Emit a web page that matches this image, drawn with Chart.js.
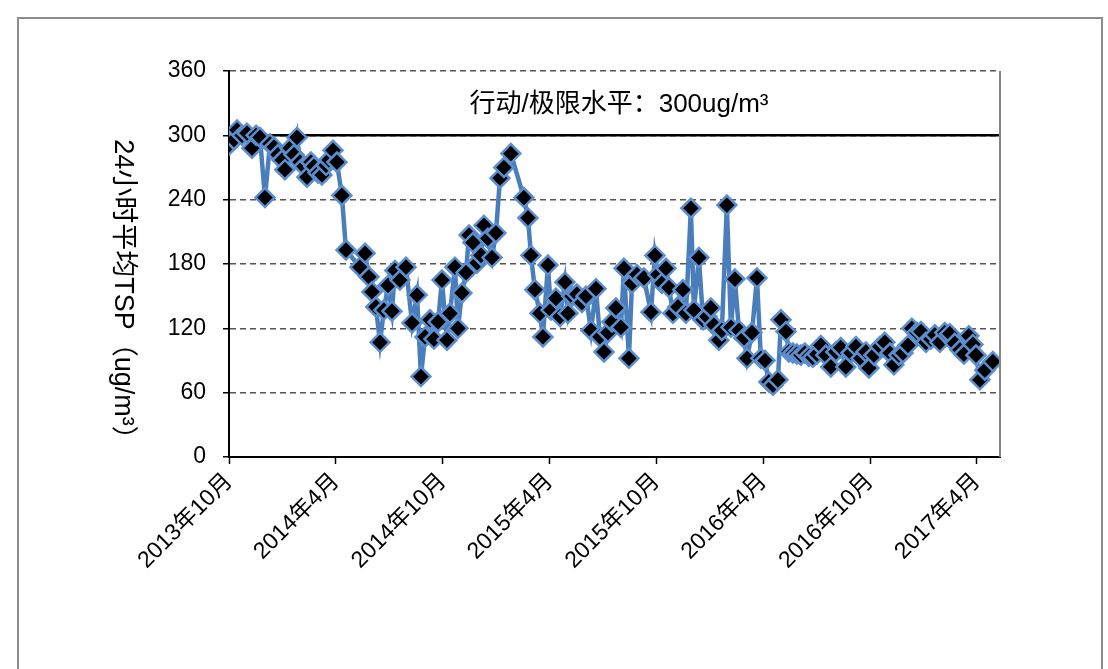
<!DOCTYPE html>
<html>
<head>
<meta charset="utf-8">
<script src="https://cdn.jsdelivr.net/npm/chart.js@4.4.0/dist/chart.umd.min.js"></script>
<style>
html, body { margin: 0; padding: 0; background: #fff; }
#wrap { position: relative; width: 1108px; height: 669px; overflow: hidden; }
#frame { position: absolute; left: 17px; top: 17px; width: 1082px; height: 700px; border: 2px solid #8c8c8c; }
canvas { position: absolute; left: 0; top: 0; }
</style>
</head>
<body>
<div id="wrap">
    <div id="frame"></div>
    <canvas id="tspChart" width="1108" height="669"></canvas>
</div>
<script>
// months since 2013年10月
const monthOffsets = [
    0.00, 0.28, 0.45, 0.73, 1.01, 1.29, 1.52, 1.74, 2.02, 2.30,
    2.53, 2.75, 2.98, 3.14, 3.43, 3.65, 3.82, 3.99, 4.21, 4.38,
    4.60, 4.77, 5.00, 5.22, 5.45, 5.61, 5.84, 6.06, 6.34, 6.57,
    7.35, 7.64, 7.86, 8.03, 8.25, 8.48, 8.70, 8.93, 9.15, 9.32,
    9.60, 9.94, 10.28, 10.56, 10.78, 11.01, 11.29, 11.51, 11.74, 11.96,
    12.24, 12.41, 12.69, 12.86, 13.08, 13.31, 13.48, 13.70, 13.93, 14.15,
    14.32, 14.54, 14.77, 14.99, 15.22, 15.44, 15.83, 16.56, 16.79, 16.96,
    17.18, 17.46, 17.63, 17.91, 18.08, 18.36, 18.59, 18.87, 19.04, 19.26,
    19.54, 19.82, 20.05, 20.33, 20.61, 20.83, 21.06, 21.28, 21.51, 21.73,
    22.01, 22.18, 22.46, 22.63, 22.91, 23.30, 23.70, 23.92, 24.09, 24.31,
    24.54, 24.71, 24.93, 25.21, 25.49, 25.66, 25.94, 26.11, 26.39, 26.62,
    26.84, 27.06, 27.23, 27.51, 27.68, 27.96, 28.19, 28.41, 28.64, 28.92,
    29.09, 29.37, 29.65, 29.87, 30.10, 30.32, 30.55, 30.83, 31.00, 31.28,
    31.45, 31.67, 31.89, 32.12, 32.34, 32.57, 32.79, 33.02, 33.24, 33.52,
    33.80, 34.08, 34.36, 34.64, 34.93, 35.21, 35.49, 35.77, 35.94, 36.22,
    36.55, 36.83, 37.12, 37.34, 37.62, 37.85, 38.13, 38.35, 38.63, 38.86,
    39.14, 39.42, 39.64, 39.92, 40.20, 40.48, 40.76, 41.05, 41.27, 41.55,
    41.78, 41.95, 42.17, 42.45, 42.90
];
const tspValues = [
    291, 296, 305, 300, 302, 288, 300, 298, 242, 292,
    289, 282, 277, 268, 288, 282, 298, 275, 271, 261,
    275, 271, 265, 263, 272, 277, 286, 275, 244, 193,
    177, 190, 168, 154, 140, 107, 137, 160, 136, 174,
    165, 177, 125, 151, 75, 112, 128, 110, 126, 165,
    109, 134, 177, 120, 153, 172, 207, 200, 181, 188,
    216, 204, 186, 209, 260, 270, 283, 242, 223, 188,
    156, 134, 112, 179, 137, 148, 131, 163, 134, 150,
    152, 144, 150, 118, 157, 112, 98, 116, 126, 139,
    121, 176, 92, 162, 170, 167, 135, 188, 170, 162,
    176, 158, 134, 140, 156, 134, 232, 137, 186, 128,
    131, 139, 123, 109, 118, 235, 121, 166, 118, 111,
    92, 116, 167, 92, 90, 70, 67, 72, 128, 117,
    98, 97, 96, 95, 97, 94, 93, 96, 104, 95,
    84, 98, 102, 84, 97, 103, 92, 98, 83, 95,
    103, 107, 97, 86, 95, 97, 104, 120, 116, 117,
    107, 110, 114, 107, 116, 115, 106, 100, 96, 113,
    105, 95, 72, 81, 89
];
const tickMonths = [0, 6, 12, 18, 24, 30, 36, 42];
const tickLabels = ['2013年10月', '2014年4月', '2014年10月', '2015年4月', '2015年10月', '2016年4月', '2016年10月', '2017年4月'];
const xMax = 43.3;
const limitValue = 300;
const limitLabel = '行动/极限水平：300ug/m³';
const yTitle = '24小时平均TSP（ug/m³）';

const FONT = '"Liberation Sans", "Noto Sans CJK SC", sans-serif';

// texts and the right edge of the plot box
const extrasPlugin = {
    id: 'extras',
    afterDraw(chart) {
        const { ctx, chartArea } = chart;
        ctx.save();
        ctx.strokeStyle = '#868686';
        ctx.lineWidth = 2;
        ctx.beginPath();
        ctx.moveTo(chartArea.right, chartArea.top);
        ctx.lineTo(chartArea.right, chartArea.bottom);
        ctx.stroke();

        ctx.fillStyle = '#000';
        ctx.textAlign = 'center';
        ctx.textBaseline = 'middle';
        ctx.font = '26px ' + FONT;
        ctx.fillText(limitLabel, 619, 105);

        ctx.translate(122, 296);
        ctx.rotate(Math.PI / 2);
        ctx.font = '27px ' + FONT;
        ctx.fillText(yTitle, 0, 0);
        ctx.restore();
    }
};

new Chart(document.getElementById('tspChart'), {
    type: 'line',
    data: {
        datasets: [{
            label: 'TSP',
            data: monthOffsets.map((m, i) => ({ x: m, y: tspValues[i] })),
            borderColor: '#4a7ebb',
            borderWidth: 4.5,
            pointStyle: 'rectRot',
            pointRadius: 9.5,
            pointBackgroundColor: '#000',
            pointBorderColor: '#5b8fd0',
            pointBorderWidth: 2.5,
            tension: 0
        }, {
            label: 'limit',
            data: [{ x: 0, y: limitValue }, { x: xMax, y: limitValue }],
            borderColor: '#000',
            borderWidth: 2.5,
            pointRadius: 0
        }]
    },
    options: {
        responsive: false,
        animation: false,
        layout: { padding: { top: 71, right: 108, left: 0, bottom: 0 } },
        scales: {
            x: {
                type: 'linear',
                min: 0,
                max: xMax,
                afterBuildTicks: scale => { scale.ticks = tickMonths.map(v => ({ value: v })); },
                afterFit: scale => { scale.height = 212; },
                ticks: {
                    callback: (v, i) => tickLabels[i],
                    autoSkip: false,
                    maxRotation: 45,
                    minRotation: 45,
                    color: '#000',
                    padding: 4,
                    font: { size: 23, family: FONT }
                },
                grid: { drawOnChartArea: false, drawTicks: true, tickLength: 7, color: '#000', tickWidth: 1.5 },
                border: { color: '#000', width: 2 }
            },
            y: {
                min: 0,
                max: 360,
                afterFit: scale => { scale.width = 229; },
                ticks: {
                    stepSize: 60,
                    color: '#000',
                    padding: 17,
                    font: { size: 23, family: FONT }
                },
                grid: { color: '#555', lineWidth: 1.5, tickLength: 6, tickColor: '#000', tickBorderDash: [] },
                border: { color: '#000', width: 2, dash: [6, 4] }
            }
        },
        plugins: {
            legend: { display: false },
            tooltip: { enabled: false }
        }
    },
    plugins: [extrasPlugin]
});
</script>
</body>
</html>
